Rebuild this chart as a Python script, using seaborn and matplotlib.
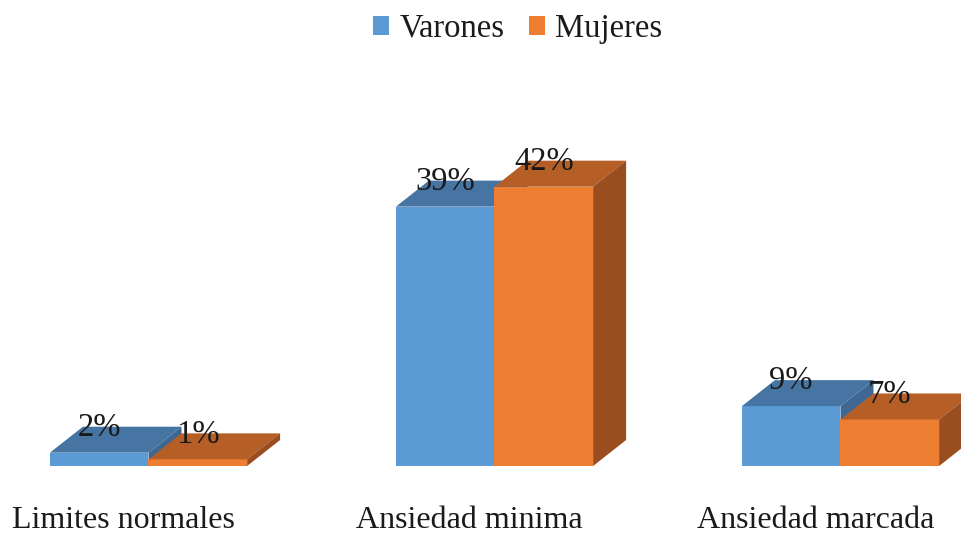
import matplotlib
matplotlib.use("Agg")
import matplotlib.pyplot as plt
from matplotlib.patches import Polygon, Patch
import matplotlib.transforms as mtransforms
import seaborn as sns
import pandas as pd

categorias = ["Limites normales", "Ansiedad minima", "Ansiedad marcada"]
series = ["Varones", "Mujeres"]
varones = [2, 39, 9]
mujeres = [1, 42, 7]

colores_frente = {"Varones": "#5B9BD5", "Mujeres": "#ED7D31"}
colores_arriba = {"Varones": "#4674A3", "Mujeres": "#B55E26"}
colores_lado = {"Varones": "#3E6794", "Mujeres": "#9A4D1E"}

df = pd.DataFrame({
    "categoria": categorias * 2,
    "sexo": ["Varones"] * 3 + ["Mujeres"] * 3,
    "porcentaje": varones + mujeres,
})

sns.set_style("white")
plt.rcParams["font.family"] = ["Liberation Serif", "DejaVu Serif"]

W, H = 962, 536
fig = plt.figure(figsize=(W / 100, H / 100), dpi=100)
base_px, top_px = 466, 60
ax = fig.add_axes([0, (H - base_px) / H, 1, (base_px - top_px) / H])

sns.barplot(data=df, x="categoria", y="porcentaje", hue="sexo",
            hue_order=series, order=categorias,
            palette=[colores_frente[s] for s in series],
            width=0.57, gap=0, saturation=1, edgecolor="none",
            legend=False, ax=ax)

px_per_unit_x = 346.0
xmin = -148.5 / px_per_unit_x
xmax = (W - 148.5) / px_per_unit_x
ymax = 61.05
ax.set_xlim(xmin, xmax)
ax.set_ylim(0, ymax)

# depth of the pseudo-3D extrusion, in data units
dx = 33 * (xmax - xmin) / W
dy = 26 * ymax / (base_px - top_px)

for k, (cont, nombre) in enumerate(zip(ax.containers, series)):
    z = 2 + k
    for bar in cont:
        x0, w, h = bar.get_x(), bar.get_width(), bar.get_height()
        bar.set_zorder(z)
        bar.set_clip_on(False)
        arriba = Polygon([(x0, h), (x0 + w, h), (x0 + w + dx, h + dy), (x0 + dx, h + dy)],
                         closed=True, facecolor=colores_arriba[nombre], edgecolor="none",
                         zorder=z + 0.1, clip_on=False)
        lado = Polygon([(x0 + w, 0), (x0 + w + dx, dy), (x0 + w + dx, h + dy), (x0 + w, h)],
                       closed=True, facecolor=colores_lado[nombre], edgecolor="none",
                       zorder=z + 0.1, clip_on=False)
        ax.add_patch(arriba)
        ax.add_patch(lado)
        ax.annotate(f"{h:.0f}%", xy=(x0 + w / 2, h), xytext=(0, 18),
                    textcoords="offset points", ha="center", va="center",
                    fontsize=23.5, color="#1a1a1a", zorder=10, annotation_clip=False)

for s in ax.spines.values():
    s.set_visible(False)
ax.set_yticks([])
ax.set_xlabel("")
ax.set_ylabel("")
ax.tick_params(axis="x", length=0, pad=29, labelsize=23, colors="#1a1a1a")
ax.set_facecolor("white")

# category labels sit slightly left of the bar pairs, under the front faces
shift = mtransforms.ScaledTranslation(-25 / 100, 0, fig.dpi_scale_trans)
for lab in ax.get_xticklabels():
    lab.set_transform(lab.get_transform() + shift)

handles = [Patch(facecolor=colores_frente[s], edgecolor="none", label=s) for s in series]
fig.legend(handles=handles, loc="upper center", bbox_to_anchor=(0.538, 1.03), ncol=2,
           frameon=False, fontsize=23.5, handlelength=0.5, handleheight=0.5,
           handletextpad=0.3, columnspacing=0.75, labelcolor="#1a1a1a")

fig.savefig("out.png", dpi=100, facecolor="white")
